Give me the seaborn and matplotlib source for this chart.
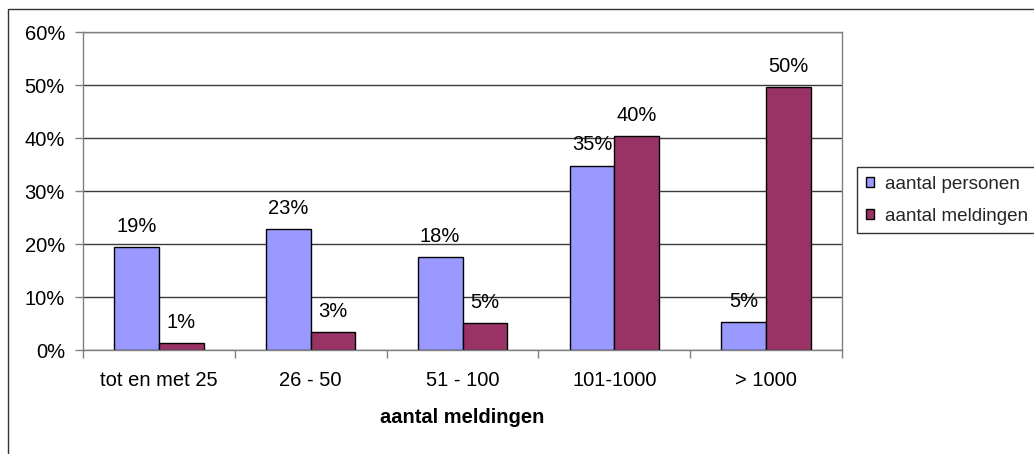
import pandas as pd
import seaborn as sns
import matplotlib.pyplot as plt
from matplotlib.patches import Rectangle
from matplotlib.ticker import FuncFormatter, FixedLocator

# Data (in %)
categories = ['tot en met 25', '26 - 50', '51 - 100', '101-1000', '> 1000']
personen = [19.4, 22.8, 17.6, 34.8, 5.2]
meldingen = [1.4, 3.4, 5.1, 40.3, 49.6]
series = ['aantal personen', 'aantal meldingen']
colors = ['#9999FF', '#993366']

df = pd.DataFrame({'categorie': categories, series[0]: personen, series[1]: meldingen})
df_long = pd.melt(df, id_vars='categorie', value_vars=series, var_name='reeks', value_name='pct')

sns.set_theme(style='white')
plt.rcParams['font.family'] = ['Liberation Sans', 'DejaVu Sans']
fs = 14.5

fig, ax = plt.subplots(figsize=(10.34, 4.54), dpi=100)
fig.subplots_adjust(left=0.0803, right=0.8143, bottom=0.229, top=0.9295)

sns.barplot(data=df_long, x='categorie', y='pct', hue='reeks', order=categories,
            hue_order=series, palette=colors, width=0.59, gap=0,
            edgecolor='black', linewidth=1, saturation=1, ax=ax)

# value labels above the bars
for cont in ax.containers:
    ax.bar_label(cont, labels=[f'{b.get_height():.0f}%' for b in cont],
                 padding=8, fontsize=fs, color='black')

ax.set_ylim(0, 60)
ax.set_yticks(range(0, 61, 10))
ax.yaxis.set_major_formatter(FuncFormatter(lambda v, p: f'{v:.0f}%'))
ax.set_xlim(-0.5, 4.5)
ax.xaxis.set_minor_locator(FixedLocator([i - 0.5 for i in range(6)]))

ax.grid(axis='y', color='#3a3a3a', linewidth=1)
ax.set_axisbelow(True)
for s in ax.spines.values():
    s.set_color('#808080')
    s.set_linewidth(1)

ax.tick_params(axis='y', which='major', left=True, length=6, width=1, color='#808080',
               pad=7, labelsize=fs, labelcolor='black')
ax.tick_params(axis='x', which='major', bottom=False, length=0, pad=15,
               labelsize=fs, labelcolor='black')
ax.tick_params(axis='x', which='minor', bottom=True, length=6, width=1, color='#808080')

ax.set_ylabel('')
ax.set_xlabel('aantal meldingen', fontsize=fs, fontweight='bold', labelpad=13, color='black')

handles, labels = ax.get_legend_handles_labels()
ax.get_legend().remove()
leg = fig.legend(handles, labels, loc='upper left', bbox_to_anchor=(857 / 1034, 1 - 167 / 454),
                 bbox_transform=fig.transFigure, borderaxespad=0, fontsize=13.6,
                 frameon=True, fancybox=False, edgecolor='black', borderpad=0.45,
                 labelspacing=0.8, handlelength=0.45, handleheight=0.45, handletextpad=0.6)
leg.get_frame().set_linewidth(1)

# outer chart border
fig.patches.append(Rectangle((8 / 1034, -0.1), 1.1, 0.1 + (454 - 9) / 454,
                             transform=fig.transFigure, fill=False,
                             edgecolor='#333333', linewidth=1))

fig.savefig('out.png', dpi=100)
